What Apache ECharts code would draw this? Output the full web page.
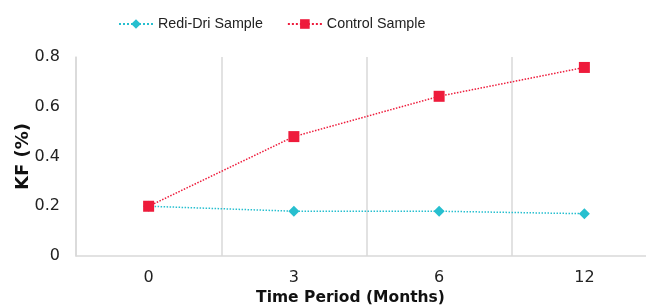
<!DOCTYPE html>
<html><head><meta charset="utf-8">
<script src="https://cdn.jsdelivr.net/npm/echarts@6/dist/echarts.min.js"></script>
<style>html,body{margin:0;padding:0;background:#fff}#c{width:646px;height:306px}</style>
</head><body><div id="c"></div>
<script>
const categories = ['0', '3', '6', '12'];
const rediDri = [0.2, 0.18, 0.18, 0.17];
const control = [0.2, 0.48, 0.642, 0.758];
const yTicks = [0, 0.2, 0.4, 0.6, 0.8];

const chart = echarts.init(document.getElementById('c'));
const font = 'DejaVu Sans';
chart.setOption({
  animation: false,
  textStyle: { fontFamily: font },
  legend: {
    top: 12, left: 113, itemWidth: 34, itemHeight: 12, itemGap: 24,
    textStyle: { fontFamily: 'Liberation Sans', fontSize: 14.3, color: '#222' },
    data: ['Redi-Dri Sample', 'Control Sample']
  },
  grid: { left: 76, top: 57, right: -11, bottom: 50, outerBoundsMode: 'none', containLabel: false },
  xAxis: {
    type: 'category', data: categories, boundaryGap: true,
    name: 'Time Period (Months)', nameLocation: 'middle', nameGap: 34, nameMoveOverlap: false,
    nameTextStyle: { fontFamily: font, fontWeight: 'bold', fontSize: 15.5, color: '#111', padding: [0, 0, 0, -32] },
    axisLine: { lineStyle: { color: '#d9d9d9', width: 1.5 } },
    axisTick: { show: false },
    axisLabel: { fontFamily: font, fontSize: 16, color: '#222', margin: 14 },
    splitLine: { show: true, lineStyle: { color: '#d9d9d9', width: 1.5 } }
  },
  yAxis: {
    type: 'value', min: 0, max: 0.8, interval: 0.2,
    name: 'KF (%)', nameLocation: 'middle', nameGap: 44, nameRotate: 90, nameMoveOverlap: false,
    nameTextStyle: { fontFamily: font, fontWeight: 'bold', fontSize: 18, color: '#111' },
    axisLine: { show: true, lineStyle: { color: '#d9d9d9', width: 1.5 } },
    axisTick: { show: false },
    axisLabel: { fontFamily: font, fontSize: 16, color: '#222', margin: 16,
      formatter: v => yTicks.includes(+v.toFixed(1)) ? String(+v.toFixed(1)) : '' },
    splitLine: { show: false }
  },
  series: [
    { name: 'Redi-Dri Sample', type: 'line', data: rediDri, symbol: 'diamond', symbolSize: 11,
      itemStyle: { color: '#27BFCF' }, lineStyle: { type: 'dotted', width: 1.5, color: '#27BFCF' } },
    { name: 'Control Sample', type: 'line', data: control, symbol: 'rect', symbolSize: 11,
      itemStyle: { color: '#EE1B3B' }, lineStyle: { type: 'dotted', width: 1.5, color: '#EE1B3B' } }
  ]
});
</script></body></html>
